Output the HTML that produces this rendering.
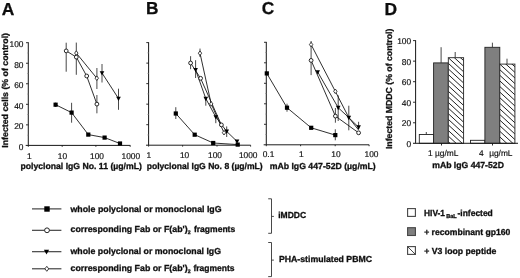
<!DOCTYPE html>
<html><head><meta charset="utf-8"><title>Figure</title>
<style>
html,body{margin:0;padding:0;background:#fff;}
svg{display:block;font-family:"Liberation Sans",Arial,Helvetica,sans-serif;fill:#111;text-rendering:geometricPrecision;}
text{stroke:#111;stroke-width:0.18px;}
text[font-weight=bold]{stroke-width:0.3px;}
</style></head><body>
<svg width="520" height="278" viewBox="0 0 520 278">
<rect width="520" height="278" fill="#fff"/>
<filter id="soft" x="0" y="0" width="520" height="278" filterUnits="userSpaceOnUse"><feGaussianBlur stdDeviation="0.32"/></filter>
<g filter="url(#soft)">
<text x="1.8" y="14.9" font-size="17.4" font-weight="bold" text-anchor="start">A</text>
<text x="146.1" y="14.1" font-size="17.3" font-weight="bold" text-anchor="start">B</text>
<text x="261.7" y="14.0" font-size="17.3" font-weight="bold" text-anchor="start">C</text>
<text x="384.5" y="14.9" font-size="17.4" font-weight="bold" text-anchor="start">D</text>
<line x1="28.3" y1="42.300000000000004" x2="28.3" y2="145.4" stroke="#1a1a1a" stroke-width="1.0"/>
<line x1="25.7" y1="145.4" x2="130.3" y2="145.4" stroke="#1a1a1a" stroke-width="1.0"/>
<text x="23.5" y="149.9" font-size="8.4" text-anchor="end">0</text>
<line x1="26.0" y1="124.86000000000001" x2="28.3" y2="124.86000000000001" stroke="#1a1a1a" stroke-width="0.9"/>
<text x="23.5" y="129.36" font-size="8.4" text-anchor="end">20</text>
<line x1="26.0" y1="104.32000000000001" x2="28.3" y2="104.32000000000001" stroke="#1a1a1a" stroke-width="0.9"/>
<text x="23.5" y="108.82000000000001" font-size="8.4" text-anchor="end">40</text>
<line x1="26.0" y1="83.78" x2="28.3" y2="83.78" stroke="#1a1a1a" stroke-width="0.9"/>
<text x="23.5" y="88.28" font-size="8.4" text-anchor="end">60</text>
<line x1="26.0" y1="63.24000000000001" x2="28.3" y2="63.24000000000001" stroke="#1a1a1a" stroke-width="0.9"/>
<text x="23.5" y="67.74000000000001" font-size="8.4" text-anchor="end">80</text>
<line x1="26.0" y1="42.70000000000002" x2="28.3" y2="42.70000000000002" stroke="#1a1a1a" stroke-width="0.9"/>
<text x="23.5" y="47.20000000000002" font-size="8.4" text-anchor="end">100</text>
<line x1="27.0" y1="135.13" x2="28.3" y2="135.13" stroke="#999" stroke-width="0.7"/>
<line x1="27.0" y1="114.59" x2="28.3" y2="114.59" stroke="#999" stroke-width="0.7"/>
<line x1="27.0" y1="94.05000000000001" x2="28.3" y2="94.05000000000001" stroke="#999" stroke-width="0.7"/>
<line x1="27.0" y1="73.51" x2="28.3" y2="73.51" stroke="#999" stroke-width="0.7"/>
<line x1="27.0" y1="52.97000000000001" x2="28.3" y2="52.97000000000001" stroke="#999" stroke-width="0.7"/>
<line x1="28.3" y1="145.4" x2="28.3" y2="146.8" stroke="#1a1a1a" stroke-width="0.9"/>
<text x="29.4" y="158.5" font-size="8.4" text-anchor="middle">1</text>
<line x1="62.2" y1="145.4" x2="62.2" y2="146.8" stroke="#1a1a1a" stroke-width="0.9"/>
<text x="62.4" y="158.5" font-size="8.4" text-anchor="middle">10</text>
<line x1="95.9" y1="145.4" x2="95.9" y2="146.8" stroke="#1a1a1a" stroke-width="0.9"/>
<text x="97.0" y="158.5" font-size="8.4" text-anchor="middle">100</text>
<line x1="130.2" y1="145.4" x2="130.2" y2="146.8" stroke="#1a1a1a" stroke-width="0.9"/>
<text x="130.8" y="158.5" font-size="8.4" text-anchor="middle">1000</text>
<text transform="translate(7.6,147.7) rotate(-90)" font-size="8.7" font-weight="bold" textLength="114.7" lengthAdjust="spacingAndGlyphs">Infected cells (% of control)</text>
<text x="20.4" y="169.2" font-size="8.7" font-weight="bold" text-anchor="start" textLength="121.5" lengthAdjust="spacingAndGlyphs">polyclonal IgG No. 11 (µg/mL)</text>
<line x1="55.6" y1="102.6" x2="55.6" y2="106.8" stroke="#333" stroke-width="0.9"/>
<line x1="71.6" y1="102.8" x2="71.6" y2="122.7" stroke="#333" stroke-width="0.9"/>
<line x1="66.2" y1="42.7" x2="66.2" y2="71.7" stroke="#333" stroke-width="0.9"/>
<line x1="76.3" y1="42.6" x2="76.3" y2="74.8" stroke="#333" stroke-width="0.9"/>
<line x1="96.9" y1="68" x2="96.9" y2="89" stroke="#333" stroke-width="0.9"/>
<line x1="96.9" y1="95" x2="96.9" y2="113.3" stroke="#333" stroke-width="0.9"/>
<line x1="102" y1="64" x2="102" y2="82.5" stroke="#333" stroke-width="0.9"/>
<line x1="118.5" y1="88.7" x2="118.5" y2="109.8" stroke="#333" stroke-width="0.9"/>
<polyline points="55.6,104.7 71.6,112.6 88.3,134.6 104.6,137.6 120,143.5" fill="none" stroke="#1a1a1a" stroke-width="0.9"/>
<polyline points="66.2,50.9 76.3,57.1 86.7,76 96.9,104.1" fill="none" stroke="#1a1a1a" stroke-width="0.9"/>
<polyline points="76.3,53.1 96.8,78.2" fill="none" stroke="#1a1a1a" stroke-width="0.9"/>
<polyline points="102,73 118.5,98.5" fill="none" stroke="#1a1a1a" stroke-width="0.9"/>
<rect x="53.50" y="102.60" width="4.2" height="4.2" fill="#000"/>
<rect x="69.50" y="110.50" width="4.2" height="4.2" fill="#000"/>
<rect x="86.20" y="132.50" width="4.2" height="4.2" fill="#000"/>
<rect x="102.50" y="135.50" width="4.2" height="4.2" fill="#000"/>
<rect x="117.90" y="141.40" width="4.2" height="4.2" fill="#000"/>
<polygon points="74.60,53.1 76.3,50.80 78.00,53.1 76.3,55.40" fill="#fff" stroke="#111" stroke-width="0.8"/>
<polygon points="95.10,78.2 96.8,75.90 98.50,78.2 96.8,80.50" fill="#fff" stroke="#111" stroke-width="0.8"/>
<circle cx="66.2" cy="50.9" r="1.9" fill="#fff" stroke="#111" stroke-width="0.9"/>
<circle cx="76.3" cy="57.1" r="1.9" fill="#fff" stroke="#111" stroke-width="0.9"/>
<circle cx="86.7" cy="76" r="1.9" fill="#fff" stroke="#111" stroke-width="0.9"/>
<circle cx="96.9" cy="104.1" r="1.9" fill="#fff" stroke="#111" stroke-width="0.9"/>
<polygon points="99.70,71.15 104.30,71.15 102.00,75.55" fill="#000"/>
<polygon points="116.20,96.65 120.80,96.65 118.50,101.05" fill="#000"/>
<line x1="148.6" y1="42.2" x2="148.6" y2="145.2" stroke="#1a1a1a" stroke-width="1.0"/>
<line x1="146.0" y1="145.2" x2="250.6" y2="145.2" stroke="#1a1a1a" stroke-width="1.0"/>
<line x1="146.29999999999998" y1="124.67999999999999" x2="148.6" y2="124.67999999999999" stroke="#1a1a1a" stroke-width="0.9"/>
<line x1="146.29999999999998" y1="104.16" x2="148.6" y2="104.16" stroke="#1a1a1a" stroke-width="0.9"/>
<line x1="146.29999999999998" y1="83.63999999999999" x2="148.6" y2="83.63999999999999" stroke="#1a1a1a" stroke-width="0.9"/>
<line x1="146.29999999999998" y1="63.11999999999999" x2="148.6" y2="63.11999999999999" stroke="#1a1a1a" stroke-width="0.9"/>
<line x1="146.29999999999998" y1="42.599999999999994" x2="148.6" y2="42.599999999999994" stroke="#1a1a1a" stroke-width="0.9"/>
<line x1="147.29999999999998" y1="134.94" x2="148.6" y2="134.94" stroke="#999" stroke-width="0.7"/>
<line x1="147.29999999999998" y1="114.41999999999999" x2="148.6" y2="114.41999999999999" stroke="#999" stroke-width="0.7"/>
<line x1="147.29999999999998" y1="93.89999999999999" x2="148.6" y2="93.89999999999999" stroke="#999" stroke-width="0.7"/>
<line x1="147.29999999999998" y1="73.38" x2="148.6" y2="73.38" stroke="#999" stroke-width="0.7"/>
<line x1="147.29999999999998" y1="52.859999999999985" x2="148.6" y2="52.859999999999985" stroke="#999" stroke-width="0.7"/>
<line x1="148.6" y1="145.2" x2="148.6" y2="146.6" stroke="#1a1a1a" stroke-width="0.9"/>
<text x="148.9" y="157.7" font-size="8.4" text-anchor="middle">1</text>
<line x1="182.6" y1="145.2" x2="182.6" y2="146.6" stroke="#1a1a1a" stroke-width="0.9"/>
<text x="184.6" y="157.7" font-size="8.4" text-anchor="middle">10</text>
<line x1="217.0" y1="145.2" x2="217.0" y2="146.6" stroke="#1a1a1a" stroke-width="0.9"/>
<text x="215.0" y="157.7" font-size="8.4" text-anchor="middle">100</text>
<line x1="250.6" y1="145.2" x2="250.6" y2="146.6" stroke="#1a1a1a" stroke-width="0.9"/>
<text x="248.2" y="157.7" font-size="8.4" text-anchor="middle">1000</text>
<text x="146.7" y="169.0" font-size="8.7" font-weight="bold" text-anchor="start" textLength="116" lengthAdjust="spacingAndGlyphs">polyclonal IgG No. 8 (µg/mL)</text>
<line x1="175.8" y1="107.2" x2="175.8" y2="119" stroke="#333" stroke-width="0.9"/>
<line x1="190.6" y1="56.2" x2="190.6" y2="69.2" stroke="#333" stroke-width="0.9"/>
<line x1="200" y1="48.6" x2="200" y2="57" stroke="#333" stroke-width="0.9"/>
<line x1="195.6" y1="60.2" x2="195.6" y2="78" stroke="#333" stroke-width="0.9"/>
<line x1="205.8" y1="98" x2="205.8" y2="105.7" stroke="#333" stroke-width="0.9"/>
<line x1="215.8" y1="116" x2="215.8" y2="123.2" stroke="#333" stroke-width="0.9"/>
<line x1="226.7" y1="126.4" x2="226.7" y2="137" stroke="#333" stroke-width="0.9"/>
<polyline points="175.8,113.5 194.7,134.7 213.2,143 237.7,144.6" fill="none" stroke="#1a1a1a" stroke-width="0.9"/>
<polyline points="190.6,63 200.6,78.3 221.4,124.9" fill="none" stroke="#1a1a1a" stroke-width="0.9"/>
<polyline points="200,53.2 211.2,103.9 224,132.7" fill="none" stroke="#1a1a1a" stroke-width="0.9"/>
<polyline points="195.6,69.8 205.8,98.6 215.8,117 226.7,131.4 237,141.4" fill="none" stroke="#1a1a1a" stroke-width="0.9"/>
<rect x="173.70" y="111.40" width="4.2" height="4.2" fill="#000"/>
<rect x="192.60" y="132.60" width="4.2" height="4.2" fill="#000"/>
<rect x="211.10" y="140.90" width="4.2" height="4.2" fill="#000"/>
<rect x="235.60" y="142.50" width="4.2" height="4.2" fill="#000"/>
<polygon points="193.30,67.95 197.90,67.95 195.60,72.35" fill="#000"/>
<polygon points="203.50,96.75 208.10,96.75 205.80,101.15" fill="#000"/>
<polygon points="213.50,115.15 218.10,115.15 215.80,119.55" fill="#000"/>
<polygon points="224.40,129.55 229.00,129.55 226.70,133.95" fill="#000"/>
<polygon points="234.70,139.55 239.30,139.55 237.00,143.95" fill="#000"/>
<polygon points="198.30,53.2 200,50.90 201.70,53.2 200,55.50" fill="#fff" stroke="#111" stroke-width="0.8"/>
<polygon points="209.50,103.9 211.2,101.60 212.90,103.9 211.2,106.20" fill="#fff" stroke="#111" stroke-width="0.8"/>
<polygon points="222.30,132.7 224,130.40 225.70,132.7 224,135.00" fill="#fff" stroke="#111" stroke-width="0.8"/>
<circle cx="190.6" cy="63" r="1.9" fill="#fff" stroke="#111" stroke-width="0.9"/>
<circle cx="200.6" cy="78.3" r="1.9" fill="#fff" stroke="#111" stroke-width="0.9"/>
<circle cx="221.4" cy="124.9" r="1.9" fill="#fff" stroke="#111" stroke-width="0.9"/>
<line x1="266.3" y1="41.9" x2="266.3" y2="144.8" stroke="#1a1a1a" stroke-width="1.0"/>
<line x1="263.7" y1="144.8" x2="369.1" y2="144.8" stroke="#1a1a1a" stroke-width="1.0"/>
<line x1="264.0" y1="124.30000000000001" x2="266.3" y2="124.30000000000001" stroke="#1a1a1a" stroke-width="0.9"/>
<line x1="264.0" y1="103.80000000000001" x2="266.3" y2="103.80000000000001" stroke="#1a1a1a" stroke-width="0.9"/>
<line x1="264.0" y1="83.3" x2="266.3" y2="83.3" stroke="#1a1a1a" stroke-width="0.9"/>
<line x1="264.0" y1="62.8" x2="266.3" y2="62.8" stroke="#1a1a1a" stroke-width="0.9"/>
<line x1="264.0" y1="42.3" x2="266.3" y2="42.3" stroke="#1a1a1a" stroke-width="0.9"/>
<line x1="265.0" y1="134.55" x2="266.3" y2="134.55" stroke="#999" stroke-width="0.7"/>
<line x1="265.0" y1="114.05000000000001" x2="266.3" y2="114.05000000000001" stroke="#999" stroke-width="0.7"/>
<line x1="265.0" y1="93.55000000000001" x2="266.3" y2="93.55000000000001" stroke="#999" stroke-width="0.7"/>
<line x1="265.0" y1="73.05" x2="266.3" y2="73.05" stroke="#999" stroke-width="0.7"/>
<line x1="265.0" y1="52.55" x2="266.3" y2="52.55" stroke="#999" stroke-width="0.7"/>
<line x1="266.3" y1="144.8" x2="266.3" y2="146.20000000000002" stroke="#1a1a1a" stroke-width="0.9"/>
<text x="268.5" y="157.0" font-size="8.4" text-anchor="middle">0.1</text>
<line x1="300.6" y1="144.8" x2="300.6" y2="146.20000000000002" stroke="#1a1a1a" stroke-width="0.9"/>
<text x="301.3" y="157.0" font-size="8.4" text-anchor="middle">1</text>
<line x1="335.2" y1="144.8" x2="335.2" y2="146.20000000000002" stroke="#1a1a1a" stroke-width="0.9"/>
<text x="336.0" y="157.0" font-size="8.4" text-anchor="middle">10</text>
<line x1="369.1" y1="144.8" x2="369.1" y2="146.20000000000002" stroke="#1a1a1a" stroke-width="0.9"/>
<text x="371.5" y="157.0" font-size="8.4" text-anchor="middle">100</text>
<text x="269.7" y="168.9" font-size="8.7" font-weight="bold" text-anchor="start" textLength="106.1" lengthAdjust="spacingAndGlyphs">mAb IgG 447-52D (µg/mL)</text>
<line x1="311.1" y1="41" x2="311.1" y2="75.1" stroke="#333" stroke-width="0.9"/>
<line x1="287" y1="103.7" x2="287" y2="111.7" stroke="#333" stroke-width="0.9"/>
<line x1="335.3" y1="129.3" x2="335.3" y2="140.3" stroke="#333" stroke-width="0.9"/>
<line x1="335.4" y1="108" x2="335.4" y2="122.7" stroke="#333" stroke-width="0.9"/>
<line x1="338.2" y1="95.3" x2="338.2" y2="121" stroke="#333" stroke-width="0.9"/>
<line x1="348.8" y1="105.7" x2="348.8" y2="130.3" stroke="#333" stroke-width="0.9"/>
<line x1="358.6" y1="121.8" x2="358.6" y2="129" stroke="#333" stroke-width="0.9"/>
<polyline points="266.8,73.4 287,107.7 311.2,127.8 335.3,135.1" fill="none" stroke="#1a1a1a" stroke-width="0.9"/>
<polyline points="311.1,60.4 335.4,116.1 358.6,132.8" fill="none" stroke="#1a1a1a" stroke-width="0.9"/>
<polyline points="311.1,44.6 335.3,91.3 348.8,117.6 358.6,130" fill="none" stroke="#1a1a1a" stroke-width="0.9"/>
<polyline points="317.7,72 338.2,107.7 348.8,117.6 358.6,127.2" fill="none" stroke="#1a1a1a" stroke-width="0.9"/>
<rect x="264.70" y="71.30" width="4.2" height="4.2" fill="#000"/>
<rect x="284.90" y="105.60" width="4.2" height="4.2" fill="#000"/>
<rect x="309.10" y="125.70" width="4.2" height="4.2" fill="#000"/>
<rect x="333.20" y="133.00" width="4.2" height="4.2" fill="#000"/>
<polygon points="309.40,44.6 311.1,42.30 312.80,44.6 311.1,46.90" fill="#fff" stroke="#111" stroke-width="0.8"/>
<polygon points="333.60,91.3 335.3,89.00 337.00,91.3 335.3,93.60" fill="#fff" stroke="#111" stroke-width="0.8"/>
<polygon points="315.40,70.15 320.00,70.15 317.70,74.55" fill="#000"/>
<polygon points="335.90,105.85 340.50,105.85 338.20,110.25" fill="#000"/>
<polygon points="346.50,115.75 351.10,115.75 348.80,120.15" fill="#000"/>
<polygon points="356.30,125.35 360.90,125.35 358.60,129.75" fill="#000"/>
<circle cx="311.1" cy="60.4" r="1.9" fill="#fff" stroke="#111" stroke-width="0.9"/>
<circle cx="335.4" cy="116.1" r="1.9" fill="#fff" stroke="#111" stroke-width="0.9"/>
<circle cx="358.6" cy="132.8" r="1.9" fill="#fff" stroke="#111" stroke-width="0.9"/>
<line x1="426.3" y1="132" x2="426.3" y2="134.5" stroke="#333" stroke-width="0.9"/>
<line x1="441.1" y1="47.2" x2="441.1" y2="62.9" stroke="#333" stroke-width="0.9"/>
<line x1="455.2" y1="52" x2="455.2" y2="57.6" stroke="#333" stroke-width="0.9"/>
<line x1="492.4" y1="42.7" x2="492.4" y2="47.3" stroke="#333" stroke-width="0.9"/>
<line x1="507" y1="58.7" x2="507" y2="64" stroke="#333" stroke-width="0.9"/>
<rect x="419.3" y="134.5" width="14.30" height="8.80" fill="#fff" stroke="#222" stroke-width="0.9"/>
<rect x="433.6" y="62.9" width="14.70" height="80.40" fill="#7f7f7f" stroke="#222" stroke-width="0.9"/>
<clipPath id="c1"><rect x="448.3" y="57.7" width="15.30" height="85.60"/></clipPath>
<rect x="448.3" y="57.7" width="15.30" height="85.60" fill="#fff"/>
<path d="M448.30,35.30 L463.60,49.38 M448.30,40.90 L463.60,54.98 M448.30,46.50 L463.60,60.58 M448.30,52.10 L463.60,66.18 M448.30,57.70 L463.60,71.78 M448.30,63.30 L463.60,77.38 M448.30,68.90 L463.60,82.98 M448.30,74.50 L463.60,88.58 M448.30,80.10 L463.60,94.18 M448.30,85.70 L463.60,99.78 M448.30,91.30 L463.60,105.38 M448.30,96.90 L463.60,110.98 M448.30,102.50 L463.60,116.58 M448.30,108.10 L463.60,122.18 M448.30,113.70 L463.60,127.78 M448.30,119.30 L463.60,133.38 M448.30,124.90 L463.60,138.98 M448.30,130.50 L463.60,144.58 M448.30,136.10 L463.60,150.18 M448.30,141.70 L463.60,155.78 " clip-path="url(#c1)" stroke="#222" stroke-width="1.0" fill="none"/>
<rect x="448.3" y="57.7" width="15.30" height="85.60" fill="none" stroke="#222" stroke-width="0.9"/>
<rect x="470.5" y="140.3" width="14.40" height="3.00" fill="#fff" stroke="#222" stroke-width="0.9"/>
<rect x="484.9" y="47.3" width="14.90" height="96.00" fill="#7f7f7f" stroke="#222" stroke-width="0.9"/>
<clipPath id="c2"><rect x="499.8" y="64.1" width="15.10" height="79.20"/></clipPath>
<rect x="499.8" y="64.1" width="15.10" height="79.20" fill="#fff"/>
<path d="M499.80,41.70 L514.90,55.59 M499.80,47.30 L514.90,61.19 M499.80,52.90 L514.90,66.79 M499.80,58.50 L514.90,72.39 M499.80,64.10 L514.90,77.99 M499.80,69.70 L514.90,83.59 M499.80,75.30 L514.90,89.19 M499.80,80.90 L514.90,94.79 M499.80,86.50 L514.90,100.39 M499.80,92.10 L514.90,105.99 M499.80,97.70 L514.90,111.59 M499.80,103.30 L514.90,117.19 M499.80,108.90 L514.90,122.79 M499.80,114.50 L514.90,128.39 M499.80,120.10 L514.90,133.99 M499.80,125.70 L514.90,139.59 M499.80,131.30 L514.90,145.19 M499.80,136.90 L514.90,150.79 M499.80,142.50 L514.90,156.39 " clip-path="url(#c2)" stroke="#222" stroke-width="1.0" fill="none"/>
<rect x="499.8" y="64.1" width="15.10" height="79.20" fill="none" stroke="#222" stroke-width="0.9"/>
<line x1="415.6" y1="40.2" x2="415.6" y2="143.3" stroke="#1a1a1a" stroke-width="1.0"/>
<line x1="413.0" y1="143.3" x2="518" y2="143.3" stroke="#1a1a1a" stroke-width="1.0"/>
<text x="411.20000000000005" y="147.00000000000003" font-size="8.4" text-anchor="end">0</text>
<line x1="413.0" y1="122.76" x2="415.6" y2="122.76" stroke="#1a1a1a" stroke-width="0.9"/>
<text x="411.20000000000005" y="126.46000000000001" font-size="8.4" text-anchor="end">20</text>
<line x1="413.0" y1="102.22" x2="415.6" y2="102.22" stroke="#1a1a1a" stroke-width="0.9"/>
<text x="411.20000000000005" y="105.92" font-size="8.4" text-anchor="end">40</text>
<line x1="413.0" y1="81.68" x2="415.6" y2="81.68" stroke="#1a1a1a" stroke-width="0.9"/>
<text x="411.20000000000005" y="85.38000000000001" font-size="8.4" text-anchor="end">60</text>
<line x1="413.0" y1="61.14" x2="415.6" y2="61.14" stroke="#1a1a1a" stroke-width="0.9"/>
<text x="411.20000000000005" y="64.84" font-size="8.4" text-anchor="end">80</text>
<line x1="413.0" y1="40.599999999999994" x2="415.6" y2="40.599999999999994" stroke="#1a1a1a" stroke-width="0.9"/>
<text x="411.20000000000005" y="44.29999999999999" font-size="8.4" text-anchor="end">100</text>
<line x1="441.5" y1="143.3" x2="441.5" y2="145.5" stroke="#1a1a1a" stroke-width="0.9"/>
<line x1="492.5" y1="143.3" x2="492.5" y2="145.5" stroke="#1a1a1a" stroke-width="0.9"/>
<text transform="translate(392.4,149.1) rotate(-90)" font-size="8.7" font-weight="bold" textLength="120.5" lengthAdjust="spacingAndGlyphs">Infected MDDC (% of control)</text>
<text x="428.1" y="155.8" font-size="8.4" text-anchor="start" textLength="30.3" lengthAdjust="spacingAndGlyphs">1 µg/mL</text>
<text x="479.0" y="155.8" font-size="8.4" text-anchor="start">4</text>
<text x="489.2" y="155.8" font-size="8.4" text-anchor="start" textLength="23.3" lengthAdjust="spacingAndGlyphs">µg/mL</text>
<text x="432.2" y="167.5" font-size="8.7" font-weight="bold" text-anchor="start" textLength="71.7" lengthAdjust="spacingAndGlyphs">mAb IgG 447-52D</text>
<line x1="32" y1="208.9" x2="61.4" y2="208.9" stroke="#333" stroke-width="1.1"/>
<line x1="32" y1="230.3" x2="61.4" y2="230.3" stroke="#333" stroke-width="1.1"/>
<line x1="32" y1="251.7" x2="61.4" y2="251.7" stroke="#333" stroke-width="1.1"/>
<line x1="32" y1="268.8" x2="61.4" y2="268.8" stroke="#333" stroke-width="1.1"/>
<rect x="44.30" y="206.30" width="5.4" height="5.4" fill="#000"/>
<circle cx="47" cy="230.3" r="2.4" fill="#fff" stroke="#111" stroke-width="0.9"/>
<polygon points="43.90,249.68 49.10,249.68 46.50,254.48" fill="#000"/>
<polygon points="44.90,268.8 46.8,266.30 48.70,268.8 46.8,271.30" fill="#fff" stroke="#111" stroke-width="0.8"/>
<text x="70.5" y="212.2" font-size="8.7" font-weight="bold" text-anchor="start" textLength="151.1" lengthAdjust="spacingAndGlyphs">whole polyclonal or monoclonal IgG</text>
<text x="70.5" y="231.8" font-size="8.7" font-weight="bold" text-anchor="start" textLength="117.1" lengthAdjust="spacingAndGlyphs">corresponding Fab or F(ab')</text>
<text x="187.7" y="233.9" font-size="5.2" font-weight="bold" text-anchor="start">2</text>
<text x="193.9" y="231.8" font-size="8.7" font-weight="bold" text-anchor="start" textLength="41.3" lengthAdjust="spacingAndGlyphs">fragments</text>
<text x="70.5" y="253.7" font-size="8.7" font-weight="bold" text-anchor="start" textLength="150.5" lengthAdjust="spacingAndGlyphs">whole polyclonal or monoclonal IgG</text>
<text x="70.5" y="271.0" font-size="8.7" font-weight="bold" text-anchor="start" textLength="117.1" lengthAdjust="spacingAndGlyphs">corresponding Fab or F(ab')</text>
<text x="187.7" y="273.2" font-size="5.2" font-weight="bold" text-anchor="start">2</text>
<text x="193.4" y="271.0" font-size="8.7" font-weight="bold" text-anchor="start" textLength="41.2" lengthAdjust="spacingAndGlyphs">fragments</text>
<path d="M268.2,198.8 H271.5 V233.3 H268.2 M271.5,216.4 H273.9" fill="none" stroke="#333" stroke-width="0.9"/>
<path d="M268.2,242.5 H271.5 V276.6 H268.2 M271.5,260.1 H273.9" fill="none" stroke="#333" stroke-width="0.9"/>
<text x="278.2" y="218.2" font-size="8.7" font-weight="bold" text-anchor="start" textLength="27.9" lengthAdjust="spacingAndGlyphs">iMDDC</text>
<text x="278.9" y="262.2" font-size="8.7" font-weight="bold" text-anchor="start" textLength="93.2" lengthAdjust="spacingAndGlyphs">PHA-stimulated PBMC</text>
<rect x="407.6" y="208.6" width="7.8" height="7.8" fill="#fff" stroke="#444" stroke-width="1.1"/>
<rect x="407.6" y="227.7" width="7.8" height="7.8" fill="#7f7f7f" stroke="#444" stroke-width="1.1"/>
<rect x="407.6" y="246.6" width="7.8" height="7.8" fill="#fff" stroke="#444" stroke-width="1.1"/>
<line x1="407.6" y1="246.6" x2="415.4" y2="254.4" stroke="#333" stroke-width="0.9"/>
<text x="424.0" y="216.2" font-size="8.7" font-weight="bold" text-anchor="start" textLength="21.0" lengthAdjust="spacingAndGlyphs">HIV-1</text>
<text x="446.2" y="218.3" font-size="5.7" font-weight="bold" text-anchor="start" textLength="10.6" lengthAdjust="spacingAndGlyphs">BaL</text>
<text x="457.5" y="216.2" font-size="8.7" font-weight="bold" text-anchor="start" textLength="35.3" lengthAdjust="spacingAndGlyphs">-infected</text>
<text x="424.2" y="235.4" font-size="8.7" font-weight="bold" text-anchor="start" textLength="86.2" lengthAdjust="spacingAndGlyphs">+ recombinant gp160</text>
<text x="424.2" y="254.4" font-size="8.7" font-weight="bold" text-anchor="start">+ V3 loop peptide</text>
</g>
</svg>
</body></html>
